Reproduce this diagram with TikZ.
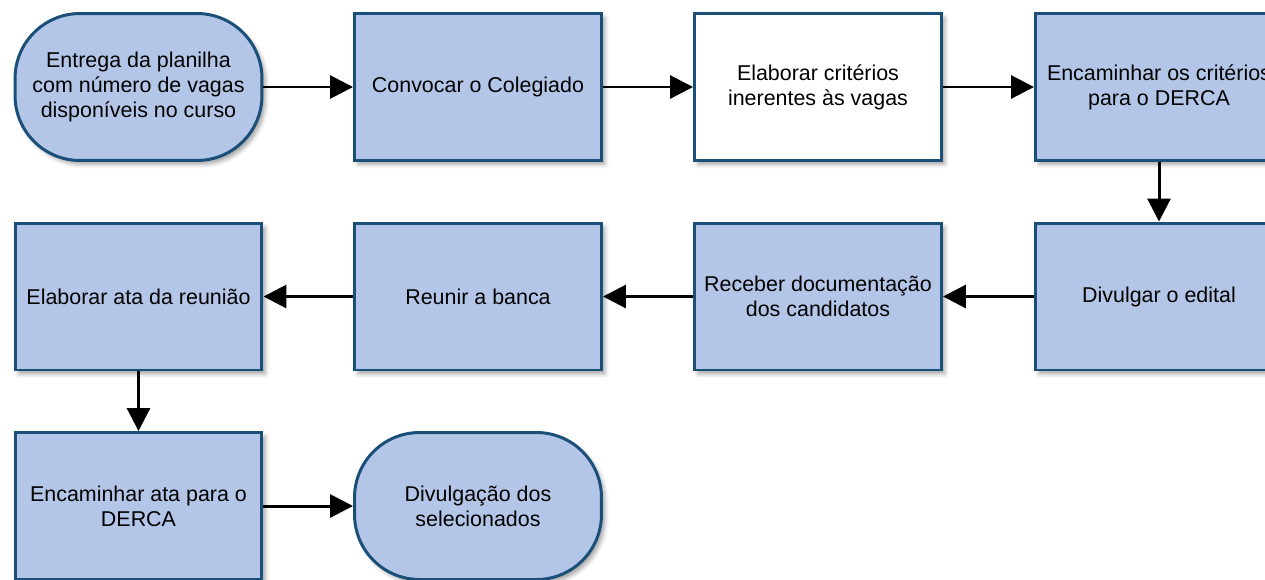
\documentclass[tikz,border=0pt]{standalone}
\usepackage{fontspec}
\setmainfont{Liberation Sans}
\usetikzlibrary{arrows.meta}
\usetikzlibrary{shadows.blur}

\definecolor{boxfill}{HTML}{B4C6E7}
\definecolor{boxline}{HTML}{1A4F7A}

\begin{document}
\begin{tikzpicture}[x=0.02cm,y=-0.02cm,>/.tip={Triangle[length=0.46cm,width=0.46cm]},
	stepbox/.style={shape=rectangle,draw=boxline,line width=1.7pt,fill=boxfill,minimum width=4.94cm,minimum height=2.94cm,align=center,font=\fontsize{12.2}{14.3}\selectfont,blur shadow={shadow xshift=0.07cm,shadow yshift=-0.08cm,shadow opacity=35,shadow blur radius=0.08cm}},
	term/.style={stepbox,rounded corners=1.3cm},
	link/.style={->,line width=1.7pt}]
	\useasboundingbox (0,0) rectangle (1265,579);
	\clip (0,0) rectangle (1265,579);
	\draw (138.5,87) node (entrega) [term] {Entrega da planilha\\com número de vagas\\disponíveis no curso};
	\draw (478,87) node (convocar) [stepbox] {Convocar o Colegiado};
	\draw (818,87) node (criterios) [stepbox,fill=white] {Elaborar critérios\\inerentes às vagas};
	\draw (1159,87) node (encaminhar) [stepbox] {Encaminhar os critérios\\para o DERCA};
	\draw (1159,296.5) node (edital) [stepbox] {Divulgar o edital};
	\draw (818,296.5) node (receber) [stepbox] {Receber documentação\\dos candidatos};
	\draw (478,296.5) node (banca) [stepbox] {Reunir a banca};
	\draw (138.5,296.5) node (ata) [stepbox] {Elaborar ata da reunião};
	\draw (138.5,506) node (enviarata) [stepbox] {Encaminhar ata para o\\DERCA};
	\draw (478,506) node (divulgacao) [term] {Divulgação dos\\selecionados};
	\draw[link] (entrega) -- (convocar);
	\draw[link] (convocar) -- (criterios);
	\draw[link] (criterios) -- (encaminhar);
	\draw[link] (encaminhar) -- (edital);
	\draw[link] (edital) -- (receber);
	\draw[link] (receber) -- (banca);
	\draw[link] (banca) -- (ata);
	\draw[link] (ata) -- (enviarata);
	\draw[link] (enviarata) -- (divulgacao);
\end{tikzpicture}
\end{document}
